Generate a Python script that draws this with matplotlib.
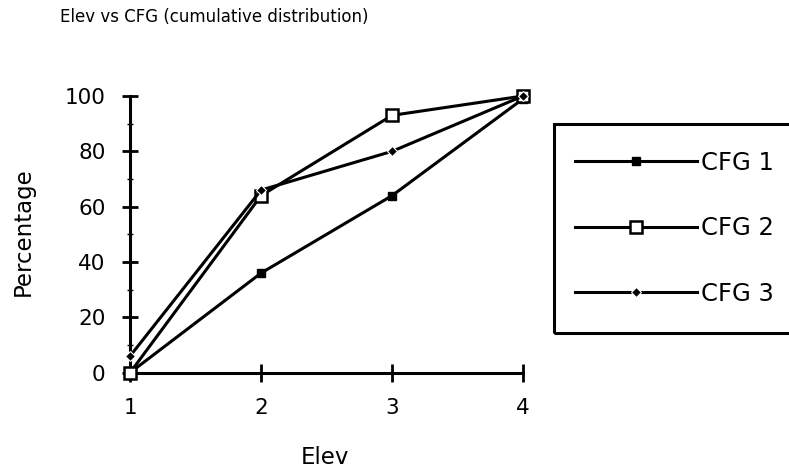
import matplotlib
matplotlib.use("Agg")
import matplotlib.pyplot as plt
from matplotlib.patches import Rectangle
from matplotlib.ticker import MultipleLocator

# cumulative share of each CFG group by elevation level
elev = [1, 2, 3, 4]
cfg1 = [0, 36, 64, 99]
cfg2 = [0, 64, 93, 100]
cfg3 = [6, 66, 80, 100]
series_names = ["CFG 1", "CFG 2", "CFG 3"]

plt.rcParams['font.family'] = ['DejaVu Sans']

fig = plt.figure(figsize=(7.89, 4.74), dpi=100)
ax = fig.add_axes([0.1648, 0.2137, 0.4982, 0.5838])

lw = 2.2
ax.plot(elev, cfg1, color='black', lw=lw, marker='s', markersize=5.5,
        markerfacecolor='black', label=series_names[0], clip_on=False, zorder=3)
ax.plot(elev, cfg2, color='black', lw=lw, marker='s', markersize=9,
        markerfacecolor='white', markeredgewidth=1.8, label=series_names[1],
        clip_on=False, zorder=4)
ax.plot(elev, cfg3, color='black', lw=lw, marker='D', markersize=5.5,
        markerfacecolor='black', markeredgecolor='white', markeredgewidth=0.8,
        label=series_names[2], clip_on=False, zorder=5)

ax.set_xlim(1, 4)
ax.set_ylim(0, 100)
ax.set_xticks(elev)
ax.yaxis.set_major_locator(MultipleLocator(20))
ax.yaxis.set_minor_locator(MultipleLocator(10))

for side in ['top', 'right']:
    ax.spines[side].set_visible(False)
for side in ['left', 'bottom']:
    ax.spines[side].set_linewidth(2.2)

ax.tick_params(axis='both', which='major', direction='inout', length=11,
               width=2, labelsize=15.5)
ax.tick_params(axis='x', which='major', length=13, pad=12)
ax.tick_params(axis='y', which='major', pad=12)
ax.tick_params(axis='y', which='minor', direction='inout', length=4, width=1)

fig.text(60 / 789, 1 - 17 / 474, "Elev vs CFG (cumulative distribution)",
         fontsize=12, ha='left', va='center')
fig.text(23 / 789, 1 - 232 / 474, "Percentage", fontsize=16.5, rotation=90,
         ha='center', va='center')
fig.text(325 / 789, 1 - 457 / 474, "Elev", fontsize=16.5,
         ha='center', va='center')

# legend box runs off the right edge of the figure
box = Rectangle((554 / 789, 1 - 333 / 474), 0.4, (333 - 124) / 474,
                transform=fig.transFigure, fill=False, edgecolor='black',
                linewidth=2.2)
fig.patches.append(box)

handles, labels = ax.get_legend_handles_labels()
fig.legend(handles, labels, loc='upper left',
           bbox_to_anchor=(575 / 789, 1 - 151 / 474), frameon=False,
           fontsize=17.5, handlelength=5.0, handletextpad=0.2,
           labelspacing=1.7, borderpad=0, borderaxespad=0)

fig.savefig("out.png", dpi=100)
